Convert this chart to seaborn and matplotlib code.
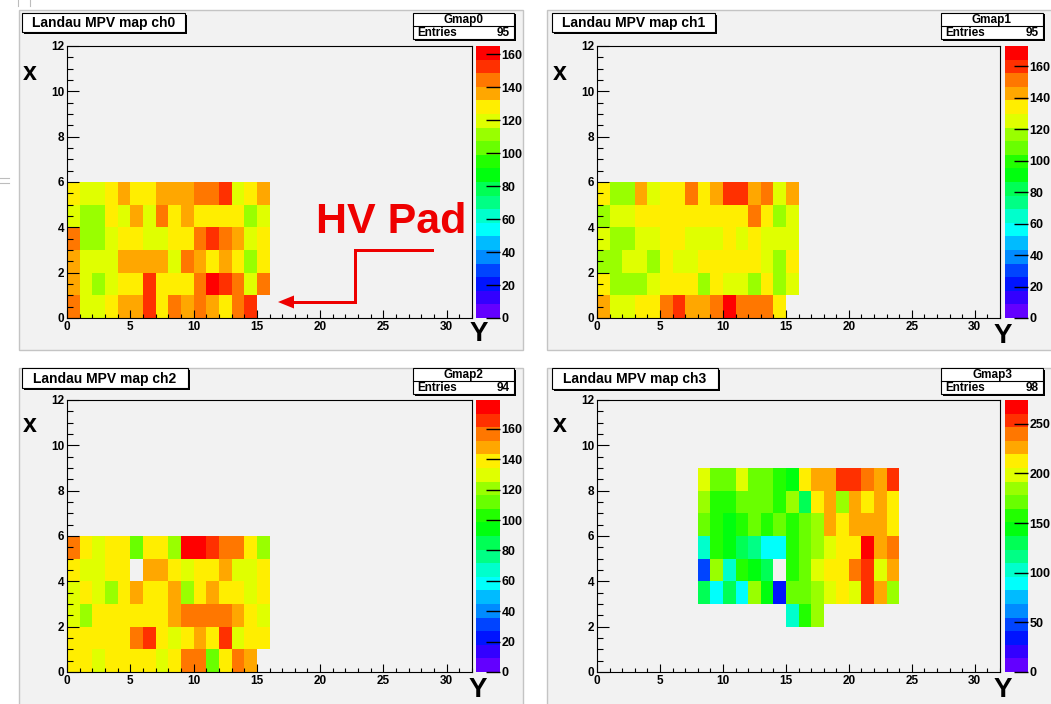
import colorsys
import numpy as np
import matplotlib
matplotlib.use("Agg")
import matplotlib.pyplot as plt
from matplotlib.colors import ListedColormap
from matplotlib.patches import Rectangle, Polygon
from matplotlib.lines import Line2D
from matplotlib.ticker import MultipleLocator
import seaborn as sns

W, H = 1051, 704
nan = float("nan")

# ---------------- data ----------------
titles = ["Landau MPV map ch0", "Landau MPV map ch1", "Landau MPV map ch2", "Landau MPV map ch3"]
hist_names = ["Gmap0", "Gmap1", "Gmap2", "Gmap3"]
entries = [95, 95, 94, 98]
zmax = [165, 173, 179, 274]
cbar_ticks = [[0, 20, 40, 60, 80, 100, 120, 140, 160]] * 3 + [[0, 50, 100, 150, 200, 250]]
x_ticks = [0, 5, 10, 15, 20, 25, 30]
y_ticks = [0, 2, 4, 6, 8, 10, 12]

# rows: X = 0..5 (bottom to top), columns: Y = 0..15
ch0_rows = [
    [144, 120, 120, 128, 136, 136, 153, 128, 144, 136, 144, 136, 128, 144, 153, nan],
    [136, 120, 111, 120, 128, 128, 153, 128, 128, 128, 144, 161, 153, 144, 120, 144],
    [136, 120, 120, 120, 136, 136, 136, 136, 120, 144, 136, 128, 136, 128, 111, 128],
    [144, 111, 111, 120, 128, 128, 120, 120, 128, 128, 144, 153, 144, 136, 120, 128],
    [120, 111, 111, 128, 120, 136, 120, 144, 128, 136, 128, 128, 128, 128, 111, 120],
    [128, 120, 120, 128, 136, 128, 128, 136, 136, 136, 144, 144, 153, 120, 128, 136],
]
ch1_rows = [
    [143, 125, 125, 134, 134, 151, 160, 143, 143, 151, 169, 151, 151, 151, 134, nan],
    [134, 117, 117, 117, 125, 134, 134, 134, 117, 134, 125, 125, 117, 134, 117, 125],
    [117, 117, 125, 125, 117, 134, 125, 125, 134, 134, 134, 134, 134, 125, 117, 134],
    [125, 117, 117, 125, 125, 134, 134, 125, 125, 125, 134, 125, 134, 125, 125, 125],
    [117, 125, 125, 134, 134, 134, 134, 134, 134, 134, 134, 134, 151, 134, 117, 125],
    [134, 117, 117, 143, 125, 134, 134, 151, 134, 143, 160, 160, 143, 151, 125, 143],
]
ch2_rows = [
    [139, 139, 130, 139, 139, 139, 139, 130, 139, 157, 157, 112, 139, 157, 148, nan],
    [139, 139, 139, 139, 139, 157, 166, 139, 130, 139, 148, 139, 166, 130, 139, 139],
    [130, 121, 139, 139, 139, 139, 139, 139, 148, 157, 157, 157, 157, 148, 139, 130],
    [130, 139, 130, 121, 139, 148, 139, 139, 148, 121, 139, 148, 139, 139, 130, 139],
    [139, 130, 130, 139, 139, nan, 148, 148, 139, 130, 139, 139, 148, 130, 130, 139],
    [157, 139, 130, 139, 139, 112, 139, 139, 121, 175, 175, 166, 157, 157, 139, 121],
]
# rows: X = 2..8, columns: Y = 8..23 (X = 2 row only Y = 15..17)
ch3_rows = [
    [nan, nan, nan, nan, nan, nan, nan, 103, 158, 185, nan, nan, nan, nan, nan, nan],
    [130, 89, 130, 89, 185, 144, 34, 171, 171, 185, 199, 212, 199, 253, 226, 185],
    [48, 185, 103, 158, 144, 130, nan, 158, 171, 199, 212, 212, 240, 253, 199, 226],
    [103, 158, 144, 130, 116, 89, 89, 158, 171, 185, 199, 212, 212, 267, 226, 240],
    [171, 158, 144, 158, 171, 158, 171, 158, 171, 185, 226, 212, 226, 226, 226, 212],
    [185, 158, 158, 171, 171, 171, 158, 185, 130, 212, 226, 185, 226, 212, 226, 212],
    [199, 171, 171, 199, 171, 171, 158, 144, 212, 226, 226, 253, 253, 240, 226, 253],
]
origins = [(0, 0), (0, 0), (0, 0), (2, 8)]   # (first X row, first Y column)
all_rows = [ch0_rows, ch1_rows, ch2_rows, ch3_rows]


def make_grid(rows, x0, y0):
    g = np.full((12, 32), np.nan)
    for i, row in enumerate(rows):
        for j, v in enumerate(row):
            g[x0 + i, y0 + j] = v
    return g


# ROOT "pretty" palette, 20 contour levels
pal = []
for j in range(20):
    idx = int((j + 0.99) * 50 / 20)
    hue = 280 - (idx + 1) * 5.6
    pal.append(colorsys.hls_to_rgb(max(hue, 0) / 360.0, 0.5, 1.0))
cmap = ListedColormap(pal)

# ---------------- layout (pixels) ----------------
panels = [
    dict(pad=(19, 10, 523, 350), frame=(67, 46, 472, 318), cbar=(476, 46, 500, 318),
         title=(22, 13, 185, 32), stats=(413, 13, 514, 39), xl=(30, 73), yl=(479, 334)),
    dict(pad=(547, 10, 1055, 350), frame=(597, 46, 1000, 318), cbar=(1005, 46, 1028, 318),
         title=(552, 13, 715, 32), stats=(941, 13, 1043, 39), xl=(560, 73), yl=(1003, 336)),
    dict(pad=(19, 368, 523, 708), frame=(67, 400, 472, 672), cbar=(476, 400, 500, 672),
         title=(22, 368, 188, 388), stats=(413, 368, 514, 394), xl=(30, 425), yl=(478, 690)),
    dict(pad=(547, 368, 1055, 708), frame=(597, 400, 1000, 672), cbar=(1005, 400, 1028, 672),
         title=(552, 368, 718, 389), stats=(941, 368, 1043, 394), xl=(560, 425), yl=(1003, 690)),
]

plt.rcParams["font.family"] = ["Liberation Sans", "DejaVu Sans"]
plt.rcParams["font.weight"] = "bold"

fig = plt.figure(figsize=(W / 100, H / 100), dpi=100, facecolor="white")
PADC = "#f2f2f2"
PT = 72.0 / 100.0  # points per pixel


def fx(x):
    return x / W


def fy(y):
    return 1 - y / H


def rect(x0, y0, x1, y1, **kw):
    r = Rectangle((fx(x0), fy(y1)), (x1 - x0) / W, (y1 - y0) / H,
                  transform=fig.transFigure, **kw)
    fig.add_artist(r)
    return r


def line(xs, ys, **kw):
    fig.add_artist(Line2D([fx(x) for x in xs], [fy(y) for y in ys],
                          transform=fig.transFigure, **kw))


def pave(x0, y0, x1, y1):
    rect(x0 + 1.5, y0 + 1.5, x1 + 1.5, y1 + 1.5, facecolor="black", edgecolor="none", zorder=5)
    rect(x0, y0, x1, y1, facecolor="white", edgecolor="black", linewidth=0.8, zorder=6)


for k, p in enumerate(panels):
    # pad background
    rect(*p["pad"], facecolor=PADC, edgecolor="#c4c4c4", linewidth=1.0, zorder=0)

    fx0, fy0, fx1, fy1 = p["frame"]
    ax = fig.add_axes([fx(fx0), fy(fy1), (fx1 - fx0) / W, (fy1 - fy0) / H])
    cx0, cy0, cx1, cy1 = p["cbar"]
    cax = fig.add_axes([fx(cx0), fy(cy1), (cx1 - cx0) / W, (cy1 - cy0) / H])

    x0, y0 = origins[k]
    grid = make_grid(all_rows[k], x0, y0)
    sns.heatmap(grid, ax=ax, cmap=cmap, vmin=0, vmax=zmax[k], cbar=True, cbar_ax=cax,
                xticklabels=False, yticklabels=False, linewidths=0)

    ax.set_xlim(0, 32)
    ax.set_ylim(0, 12)
    ax.set_facecolor(PADC)
    for s in ax.spines.values():
        s.set_visible(True)
        s.set_color("black")
        s.set_linewidth(0.8)
    ax.set_xticks(x_ticks)
    ax.set_xticklabels([str(t) for t in x_ticks])
    ax.set_yticks(y_ticks)
    ax.set_yticklabels([str(t) for t in y_ticks])
    ax.xaxis.set_minor_locator(MultipleLocator(1))
    ax.yaxis.set_minor_locator(MultipleLocator(0.5))
    ax.tick_params(axis="x", which="major", direction="in", length=8 * PT, width=0.8,
                   bottom=True, top=False, labelsize=8.5, pad=2)
    ax.tick_params(axis="x", which="minor", direction="in", length=4 * PT, width=0.8,
                   bottom=True, top=False)
    ax.tick_params(axis="y", which="major", direction="in", length=12 * PT, width=0.8,
                   left=True, right=False, labelsize=8.5, pad=2)
    ax.tick_params(axis="y", which="minor", direction="in", length=6 * PT, width=0.8,
                   left=True, right=False)
    for lab in ax.get_xticklabels() + ax.get_yticklabels():
        lab.set_fontweight("bold")

    # colour bar
    cax.set_yticks(cbar_ticks[k])
    cax.set_yticklabels([str(t) for t in cbar_ticks[k]])
    cax.minorticks_off()
    cax.tick_params(axis="y", direction="in", length=14 * PT, width=1.0, color="black",
                    right=True, left=False, labelright=True, labelleft=False,
                    labelsize=9, pad=1)
    for lab in cax.get_yticklabels():
        lab.set_fontweight("bold")
    for s in cax.spines.values():
        s.set_visible(False)

    # title pave
    tx0, ty0, tx1, ty1 = p["title"]
    pave(tx0, ty0, tx1, ty1)
    fig.text(fx((tx0 + tx1) / 2), fy((ty0 + ty1) / 2 + 0.5), titles[k], ha="center", va="center",
             fontsize=10, fontweight="bold", zorder=7)

    # stats pave
    sx0, sy0, sx1, sy1 = p["stats"]
    pave(sx0, sy0, sx1, sy1)
    sm = (sy0 + sy1) / 2
    line([sx0, sx1], [sm, sm], color="black", linewidth=0.8, zorder=7)
    fig.text(fx((sx0 + sx1) / 2), fy((sy0 + sm) / 2 + 0.5), hist_names[k], ha="center",
             va="center", fontsize=8.5, fontweight="bold", zorder=7)
    fig.text(fx(sx0 + 4), fy((sm + sy1) / 2 + 0.5), "Entries", ha="left", va="center",
             fontsize=8.5, fontweight="bold", zorder=7)
    fig.text(fx(sx1 - 4), fy((sm + sy1) / 2 + 0.5), str(entries[k]), ha="right", va="center",
             fontsize=8.5, fontweight="bold", zorder=7)

    # axis titles
    fig.text(fx(p["xl"][0]), fy(p["xl"][1]), "x", ha="center", va="center",
             fontsize=18, fontweight="bold")
    fig.text(fx(p["yl"][0]), fy(p["yl"][1]), "Y", ha="center", va="center",
             fontsize=20, fontweight="bold")

# HV Pad annotation
fig.text(fx(391), fy(233), "HV Pad", color="#ee0000", ha="center", va="baseline",
         fontsize=31, fontweight="bold", zorder=8)
line([432, 355, 355, 290], [250, 250, 302, 302], color="#ee0000", linewidth=3 * PT,
     solid_joinstyle="miter", zorder=8)
fig.add_artist(Polygon([(fx(278), fy(302)), (fx(294), fy(295.5)), (fx(294), fy(308.5))],
                       closed=True, transform=fig.transFigure, facecolor="#ee0000",
                       edgecolor="none", zorder=8))

# small window artefacts at the left edge
line([18, 18], [0, 6], color="#bdbdbd", linewidth=0.8)
line([30, 30], [0, 6], color="#bdbdbd", linewidth=0.8)
line([0, 9], [178, 178], color="#bdbdbd", linewidth=0.8)
line([0, 9], [183, 183], color="#bdbdbd", linewidth=0.8)

fig.savefig("out.png", dpi=100, facecolor="white")
